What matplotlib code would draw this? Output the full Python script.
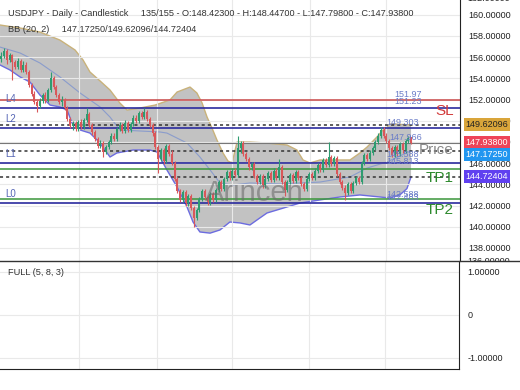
import matplotlib
matplotlib.use('Agg')
import matplotlib.pyplot as plt
import numpy as np
from matplotlib.ticker import FormatStrFormatter
from matplotlib.lines import Line2D
from matplotlib.transforms import Bbox

plt.rcParams['font.family'] = ['Liberation Sans', 'DejaVu Sans']

# daily USDJPY candles (last one is the 135/155 bar)
opens = [155.8, 156.1, 156.6, 155.7, 156.2, 155.5, 155.1, 155.6, 154.8, 155.3,
         154.6, 153.4, 152.5, 151.8, 151.4, 151.9, 152.4, 151.9, 152.9, 154.0,
         153.2, 152.4, 151.8, 152.0, 151.2, 150.2, 149.5, 149.8, 149.2, 149.9,
         149.4, 150.1, 150.6, 149.6, 148.9, 148.3, 147.6, 147.9, 147.1, 147.5,
         148.0, 148.6, 148.3, 149.2, 149.6, 149.0, 149.8, 149.1, 149.7, 150.3,
         150.0, 150.7, 150.4, 150.8, 150.2, 149.6, 148.8, 147.5, 146.4, 147.2,
         146.2, 147.6, 146.9, 146.0, 144.5, 143.4, 142.5, 143.3, 142.2, 142.9,
         141.8, 140.8, 141.6, 142.6, 143.4, 142.8, 142.3, 143.1, 142.5, 143.5,
         144.2, 143.6, 144.5, 145.2, 144.6, 145.3, 144.9, 147.4, 147.9, 146.9,
         146.4, 145.6, 145.9, 144.8, 144.2, 144.8, 143.9, 144.5, 145.1, 144.4,
         145.3, 144.6, 145.6, 144.2, 143.5, 144.2, 144.9, 144.3, 145.2, 144.6,
         144.0, 143.6, 144.5, 145.0, 144.6, 145.3, 145.8, 145.4, 146.3, 145.8,
         146.6, 145.9, 146.5, 145.0, 144.2, 143.7, 143.2, 144.0, 143.4, 144.1,
         144.6, 144.2, 146.0, 146.8, 146.4, 147.0, 147.4, 148.0, 148.6, 149.1,
         148.6, 148.1, 147.4, 146.8, 147.5, 146.9, 147.8, 147.2, 148.1, 148.423]
highs = [156.5, 156.9, 156.8, 156.4, 156.3, 155.7, 155.9, 155.8, 155.6, 155.5,
         154.8, 153.6, 152.8, 152.0, 152.1, 152.6, 152.7, 153.1, 154.6, 154.2,
         153.4, 152.6, 152.3, 152.1, 151.4, 150.4, 150.0, 150.0, 150.1, 150.2,
         150.3, 151.2, 150.8, 149.8, 149.1, 148.5, 148.2, 148.1, 147.7, 148.2,
         148.8, 148.8, 149.4, 149.9, 149.8, 150.1, 150.0, 149.9, 150.5, 150.5,
         150.9, 150.9, 151.2, 151.0, 150.4, 149.8, 149.0, 147.7, 147.4, 147.4,
         147.8, 147.8, 147.2, 146.2, 144.7, 143.6, 143.5, 143.5, 143.1, 143.1,
         142.0, 141.8, 142.8, 143.6, 143.6, 143.0, 143.3, 143.3, 143.7, 144.4,
         144.4, 144.7, 145.4, 145.4, 145.5, 145.5, 148.6, 148.1, 148.1, 147.1,
         146.6, 146.1, 146.1, 145.0, 145.0, 145.0, 144.7, 145.3, 145.3, 145.5,
         145.5, 146.4, 145.8, 144.4, 144.4, 145.1, 145.1, 145.4, 145.4, 144.8,
         144.2, 144.7, 145.2, 145.2, 145.5, 146.0, 146.0, 146.5, 146.5, 148.0,
         146.8, 146.7, 146.7, 145.2, 144.4, 143.9, 144.2, 144.2, 144.3, 144.8,
         144.8, 146.2, 147.0, 147.0, 147.2, 147.6, 148.2, 148.8, 149.4, 149.4,
         148.8, 148.3, 147.6, 147.7, 147.7, 148.0, 148.0, 148.3, 148.6, 148.447]
lows = [155.5, 155.9, 155.4, 155.5, 153.8, 154.9, 154.9, 154.6, 154.6, 154.4,
        153.2, 152.3, 151.6, 150.8, 151.2, 151.7, 151.7, 151.8, 152.7, 153.0,
        152.2, 151.6, 151.4, 151.0, 150.0, 149.3, 149.1, 149.0, 149.0, 149.2,
        149.2, 149.9, 149.4, 148.7, 148.1, 147.4, 147.4, 146.6, 146.9, 147.3,
        147.8, 148.1, 148.1, 149.0, 148.8, 148.8, 148.9, 148.9, 149.5, 149.8,
        149.8, 150.2, 150.2, 150.0, 149.4, 148.6, 147.3, 145.1, 146.2, 145.9,
        146.0, 146.7, 145.8, 144.3, 143.2, 142.3, 142.3, 142.0, 142.0, 141.6,
        140.0, 140.6, 141.4, 142.4, 142.6, 142.1, 142.1, 142.3, 142.3, 143.3,
        143.4, 143.4, 144.3, 144.4, 144.4, 144.7, 144.7, 147.0, 146.7, 146.2,
        145.4, 145.4, 144.6, 144.0, 144.0, 143.7, 143.7, 144.3, 144.2, 144.2,
        144.4, 144.4, 144.0, 142.9, 143.3, 144.0, 144.1, 144.1, 144.4, 143.8,
        143.4, 143.4, 144.3, 144.4, 144.4, 145.1, 145.2, 145.2, 145.6, 145.6,
        145.7, 145.7, 144.8, 144.0, 143.5, 142.5, 143.0, 143.2, 143.2, 143.9,
        144.0, 144.0, 145.8, 146.2, 146.2, 146.8, 147.2, 147.8, 148.4, 148.4,
        147.9, 147.2, 146.6, 146.6, 146.7, 146.7, 147.0, 147.0, 147.9, 147.798]
closes = [156.1, 156.6, 155.7, 156.2, 155.5, 155.1, 155.6, 154.8, 155.3, 154.6,
          153.4, 152.5, 151.8, 151.4, 151.9, 152.4, 151.9, 152.9, 154.0, 153.2,
          152.4, 151.8, 152.0, 151.2, 150.2, 149.5, 149.8, 149.2, 149.9, 149.4,
          150.1, 150.6, 149.6, 148.9, 148.3, 147.6, 147.9, 147.1, 147.5, 148.0,
          148.6, 148.3, 149.2, 149.6, 149.0, 149.8, 149.1, 149.7, 150.3, 150.0,
          150.7, 150.4, 150.8, 150.2, 149.6, 148.8, 147.5, 146.4, 147.2, 146.2,
          147.6, 146.9, 146.0, 144.5, 143.4, 142.5, 143.3, 142.2, 142.9, 141.8,
          140.8, 141.6, 142.6, 143.4, 142.8, 142.3, 143.1, 142.5, 143.5, 144.2,
          143.6, 144.5, 145.2, 144.6, 145.3, 144.9, 147.4, 147.9, 146.9, 146.4,
          145.6, 145.9, 144.8, 144.2, 144.8, 143.9, 144.5, 145.1, 144.4, 145.3,
          144.6, 145.6, 144.2, 143.5, 144.2, 144.9, 144.3, 145.2, 144.6, 144.0,
          143.6, 144.5, 145.0, 144.6, 145.3, 145.8, 145.4, 146.3, 145.8, 146.6,
          145.9, 146.5, 145.0, 144.2, 143.7, 143.2, 144.0, 143.4, 144.1, 144.6,
          144.2, 146.0, 146.8, 146.4, 147.0, 147.4, 148.0, 148.6, 149.1, 148.6,
          148.1, 147.4, 146.8, 147.5, 146.9, 147.8, 147.2, 148.1, 148.4, 147.938]

# Bollinger band outline (bar index, price)
bb_up_x = [-0.5, 6.8, 14, 21.3, 26.8, 29.7, 32.2, 35.9, 39.5, 43.1, 45.7, 50.4,
           55.9, 61.3, 63.9, 68.6, 71.1, 73, 74.8, 76.6, 78.4, 80.6, 82.4, 83.9,
           85.7, 90.4, 96.6, 103.9, 107.5, 109.7, 112.2, 115.9, 126.8, 130.4,
           133, 136.6, 138.8, 141.3, 149]
bb_up = [159.03, 158.75, 158.37, 157.61, 156.67, 155.73, 154.60, 153.75, 152.90,
         151.67, 151.01, 151.20, 151.48, 151.96, 152.71, 153.18, 152.62, 151.67,
         150.35, 149.31, 148.18, 146.96, 146.20, 146.02, 147.99, 147.99, 147.90,
         147.71, 147.24, 146.30, 146.02, 146.30, 146.30, 146.96, 147.52, 148.47,
         149.13, 149.69, 149.62]
bb_lo_x = [-0.5, 3.1, 6.8, 10.4, 14, 17.7, 21.3, 23.9, 25.7, 28.6, 32.2, 34.8,
           36.9, 39.5, 42, 47.9, 54, 56.6, 60.2, 63.9, 67.5, 69.7, 72.2, 75.9,
           79.5, 83.1, 86.8, 90.4, 94, 96.6, 100.2, 103.9, 108.6, 115.9, 123.1,
           130.4, 137.7, 141.3, 144.9, 147.5, 149]
bb_lo = [155.26, 154.79, 154.13, 153.65, 152.43, 151.48, 151.30, 151.01, 149.78,
         149.13, 148.84, 148.18, 147.52, 146.58, 146.96, 147.24, 147.24, 147.05,
         145.36, 143.75, 141.87, 140.45, 139.51, 139.40, 139.70, 140.45, 140.36,
         140.17, 140.83, 141.30, 141.58, 141.87, 142.24, 142.53, 142.81, 143.00,
         142.81, 142.71, 143.00, 143.60, 144.72]
bb_mid_x = [-0.5, 6.8, 14, 21.3, 28.6, 35.9, 39.5, 43.1, 57.7, 60.2, 67.5, 72.2,
            75.9, 79.5, 84.2, 90.4, 101.3, 108.6, 115.9, 126.8, 133, 140.2, 149]
bb_mid = [156.95, 156.39, 155.45, 154.13, 152.62, 151.30, 150.35, 149.13, 148.94,
          148.84, 147.90, 146.58, 145.36, 144.13, 143.94, 144.13, 144.04, 144.13,
          144.22, 144.70, 145.54, 146.11, 147.17]

sl_level = 151.97
level_lines = [151.23, 149.303, 146.013, 142.24]
level_names = ['L4', 'L2', 'L1', 'L0']
bb_now = [147.17250, 149.62096, 144.72404]
last_close = 147.938
tp_levels = [145.45, 142.59]
grid_idx = [28.2, 56.6, 83.9, 112.2, 139.9]

W, H = 520, 390
fig = plt.figure(figsize=(W / 100, H / 100), dpi=100)
ax = fig.add_axes([0, 1 - 260.7 / H, 460 / W, 260.7 / H])
ax2 = fig.add_axes([0, 21 / H, 459 / W, 108.3 / H])

idx = np.arange(len(closes))
ax.set_xlim(-0.51, 166.8)
ax.set_ylim(136.8, 161.39)

# grid / axis
ax.set_xticks(grid_idx)
ax.set_xticklabels([])
ax.set_yticks(np.arange(138, 161, 2))
ax.yaxis.tick_right()
ax.yaxis.set_major_formatter(FormatStrFormatter('%.5f'))
ax.tick_params(length=0, labelsize=6.5, labelcolor='#222', pad=6)
ax.grid(color='#e9e9e9', lw=0.8, zorder=0)
for s in ['top', 'left', 'bottom']:
    ax.spines[s].set_visible(False)
ax.spines['right'].set_color('#222')

# half-hidden tick labels at the panel edges
clip = Bbox.from_extents(0, H - 260.7, W, H)
for txt, ypx in [('136.00000', 261.5), ('162.00000', -1.5)]:
    t = fig.text(467 / W, 1 - ypx / H, txt, fontsize=6.5, color='#222', va='center')
    t.set_clip_box(clip)
    t.set_clip_on(True)

# bollinger band
ax.fill(np.r_[bb_up_x, bb_lo_x[::-1]], np.r_[bb_up, bb_lo[::-1]],
        color='#c2c2c2', lw=0, zorder=1)
ax.plot(bb_up_x, bb_up, color='#c9b27a', lw=1.0, zorder=1.5)
ax.plot(bb_lo_x, bb_lo, color='#6c6ce0', lw=1.0, zorder=1.5)
ax.plot(bb_mid_x, bb_mid, color='#8a9ccc', lw=0.8, zorder=1.5)

# level lines
ax.axhline(sl_level, color='#cc5555', lw=1.2, zorder=2)
for v in level_lines:
    ax.axhline(v, color='#2b2b9e', lw=1.2, zorder=2)
for v in bb_now:
    ax.axhline(v, color='#333', lw=1.1, ls=(0, (2, 2)), zorder=2)
ax.axhline(last_close, color='#777', lw=0.8, zorder=2)
for v in tp_levels:
    ax.axhline(v, color='#3a963a', lw=1.1, zorder=2)

# candles
o = np.array(opens); c = np.array(closes)
cols = np.where(c >= o, '#2e9c70', '#d9575a')
ax.vlines(idx, lows, highs, colors=cols, lw=0.8, zorder=3)
ax.bar(idx, np.maximum(np.abs(c - o), 0.06), bottom=np.minimum(o, c),
       width=0.7, color=cols, lw=0, zorder=3)

# labels on the left
for v, n in zip(level_lines, level_names):
    ax.text(1.5, v + 0.85, n, color='#5565b5', fontsize=7, va='center', zorder=4)

# value labels near the right
lab_col = '#6a7cc8'
for txt, xv, yv in [('151.97', 143, 152.5), ('151.23', 143, 151.85),
                    ('149.303', 140, 149.8), ('147.966', 141, 148.4),
                    ('145.588', 140, 146.85), ('145.813', 140, 146.2),
                    ('142.588', 140, 143.0), ('142.483', 140, 142.75)]:
    ax.text(xv, yv, txt, color=lab_col, fontsize=6.5, va='center', zorder=4)

ax.text(164.5, 150.9, 'SL', color='#d23a3a', fontsize=11, ha='right', va='center', zorder=4)
ax.text(164.5, 147.2, 'Price', color='#8a8a8a', fontsize=11, ha='right', va='center', zorder=4)
ax.text(164.5, 144.6, 'TP1', color='#2e8a2e', fontsize=11, ha='right', va='center', zorder=4)
ax.text(164.5, 141.6, 'TP2', color='#2e8a2e', fontsize=11, ha='right', va='center', zorder=4)

# watermark
ax.text(92, 143.2, 'Arincen', color='#6e6e6e', alpha=0.6, fontsize=21,
        ha='center', va='center', zorder=5)

# price tags on the axis
tags = [(149.62096, '149.62096', '#d9a53a', '#222'),
        (147.93800, '147.93800', '#ee4458', 'white'),
        (147.17250 - 0.33, '147.17250', '#2196f0', 'white'),
        (144.72404, '144.72404', '#6040f0', 'white')]
for yv, t, bg, fg in tags:
    ax.text(1.012, yv, t, transform=ax.get_yaxis_transform(), fontsize=6.5,
            color=fg, va='center', ha='left', zorder=6, clip_on=False,
            bbox=dict(boxstyle='square,pad=0.2', fc=bg, ec='none'))

# header
fig.text(8 / W, 1 - 13 / H,
         'USDJPY - Daily - Candlestick     135/155 - O:148.42300 - H:148.44700 - L:147.79800 - C:147.93800',
         fontsize=6.6, color='#333', va='center')
fig.text(8 / W, 1 - 29 / H, 'BB (20, 2)     147.17250/149.62096/144.72404',
         fontsize=6.6, color='#333', va='center')

# oscillator panel
ax2.set_xlim(-0.51, 166.8)
ax2.set_ylim(-1.26, 1.26)
ax2.set_xticks(grid_idx)
ax2.set_xticklabels([])
ax2.set_yticks([-1, 0, 1])
ax2.set_yticklabels(['-1.00000', '0', '1.00000'])
ax2.yaxis.tick_right()
ax2.tick_params(length=0, labelsize=6.5, labelcolor='#222', pad=6)
ax2.grid(color='#e9e9e9', lw=0.8)
ax2.spines['left'].set_visible(False)
ax2.spines['top'].set_visible(False)
for s in ['right', 'bottom']:
    ax2.spines[s].set_color('#222')
ax2.text(8 / 459, 1 - 12 / 108.3, 'FULL (5, 8, 3)', transform=ax2.transAxes,
         fontsize=6.6, color='#333', va='center')

fig.add_artist(Line2D([0, 1], [1 - 260.7 / H] * 2, color='#333', lw=1))

fig.savefig('out.png', dpi=100)
